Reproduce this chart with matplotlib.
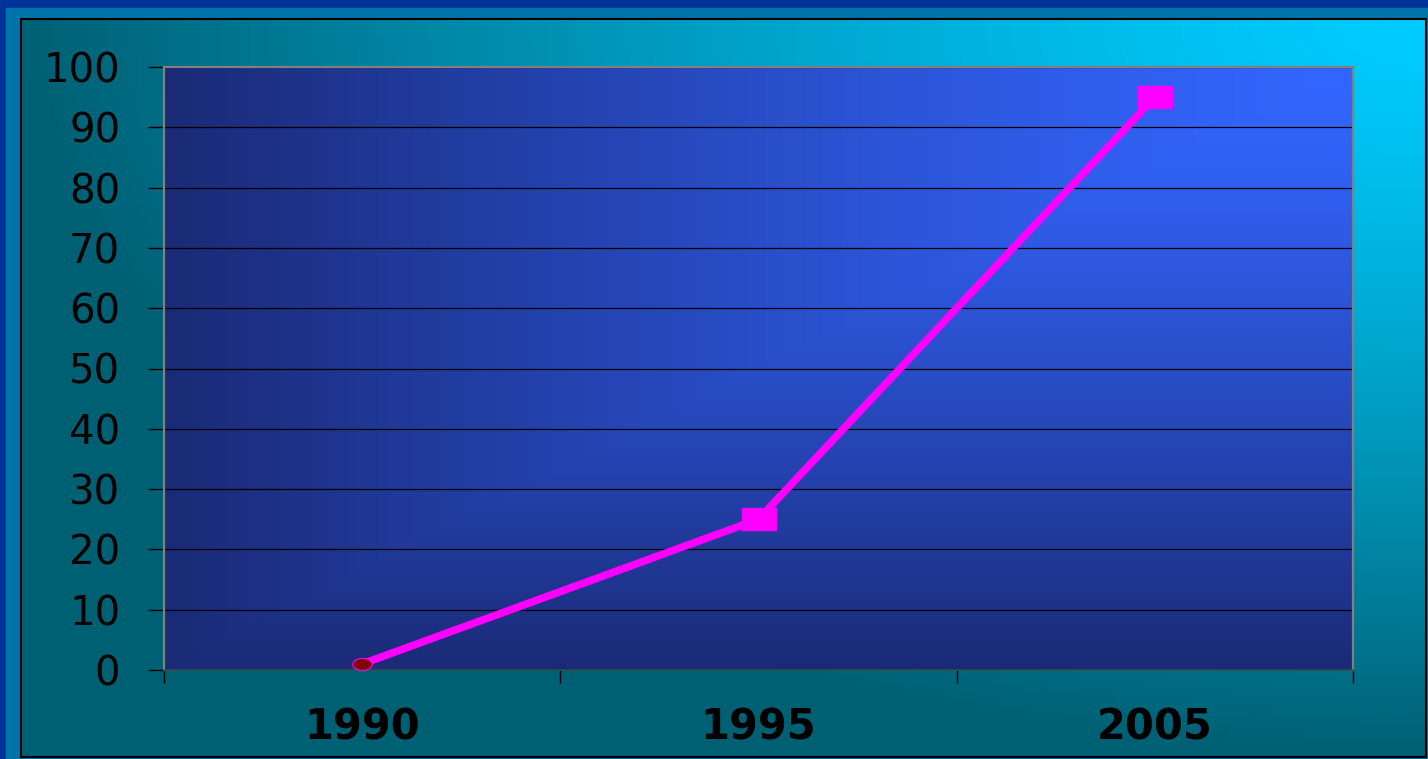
import numpy as np
import matplotlib.pyplot as plt
from matplotlib.path import Path
from matplotlib.colors import to_rgb

years = ["1990", "1995", "2005"]
values = [1, 25, 95]
yticks = [0, 10, 20, 30, 40, 50, 60, 70, 80, 90, 100]

W, H = 1428, 759


def radial(w, h, c_hot, c_cold, power, square=False):
    # gradient spreading out from the top-right corner
    xs = np.linspace(1, 0, w)
    ys = np.linspace(0, 1, h)
    dx, dy = np.meshgrid(xs, ys)
    d = np.maximum(dx, dy) if square else np.sqrt(dx ** 2 + dy ** 2)
    t = np.clip(d, 0, 1) ** power
    a, b = np.array(to_rgb(c_hot)), np.array(to_rgb(c_cold))
    return a + (b - a) * t[..., None]


fig = plt.figure(figsize=(W / 100, H / 100), dpi=100)

# frame and chart area background
bg = fig.add_axes([0, 0, 1, 1], zorder=-5)
bg.set_xlim(0, W)
bg.set_ylim(H, 0)
bg.axis("off")
bg.add_patch(plt.Rectangle((0, 0), W, H, color="#003399"))
bg.add_patch(plt.Rectangle((6, 8), W, H, color="#0073a8"))
bg.imshow(radial(300, 160, "#00ccff", "#006074", 1.3),
          extent=(21, 1426, 757, 19), aspect="auto", zorder=2)
bg.add_patch(plt.Rectangle((21, 19), 1405, 738, fill=False,
                           edgecolor="black", lw=1.5, zorder=3))

# plot area
x0, x1, y0, y1 = 164, 1353, 67, 670
ax = fig.add_axes([x0 / W, (H - y1) / H, (x1 - x0) / W, (y1 - y0) / H])
ax.imshow(radial(300, 160, "#3366ff", "#1a2a76", 1.3, square=True),
          extent=(0, 1, 0, 1), transform=ax.transAxes, aspect="auto", zorder=0)

x = np.arange(len(years))
ax.plot(x, values, color="#ff00ff", lw=5.5, zorder=3, solid_capstyle="butt")

ellipse = Path.unit_circle().transformed(
    plt.matplotlib.transforms.Affine2D().scale(1.6, 1.0))
rect = Path([(-1.57, -1), (1.57, -1), (1.57, 1), (-1.57, 1), (-1.57, -1)],
            [Path.MOVETO, Path.LINETO, Path.LINETO, Path.LINETO, Path.CLOSEPOLY])
ax.plot(x[:1], values[:1], ls="none", marker=ellipse, ms=14,
        mfc="#800000", mec="#ff00ff", mew=0.8, zorder=4)
ax.plot(x[1:], values[1:], ls="none", marker=rect, ms=24,
        mfc="#ff00ff", mec="#ff00ff", zorder=4)

ax.set_xlim(-0.5, len(years) - 0.5)
ax.set_ylim(0, 100)
ax.set_yticks(yticks)
ax.set_yticklabels([str(v) for v in yticks], fontsize=29,
                   family="DejaVu Sans", color="black")
ax.tick_params(axis="y", length=11.5, width=1, color="black", pad=20)
ax.grid(axis="y", color="black", lw=0.9, zorder=1)

ax.set_xticks(x)
ax.set_xticklabels(years, fontsize=30, fontweight="bold",
                   family="DejaVu Sans", color="black")
ax.set_xticks(np.arange(len(years) + 1) - 0.5, minor=True)
ax.tick_params(axis="x", which="major", length=0, pad=26)
ax.tick_params(axis="x", which="minor", length=9.5, width=1, color="black")

for side in ["top", "right", "left"]:
    ax.spines[side].set_color("#808080")
    ax.spines[side].set_linewidth(1.6)
ax.spines["bottom"].set_color("#2f4f4f")
ax.spines["bottom"].set_linewidth(1.2)

fig.savefig("out.png", dpi=100)
